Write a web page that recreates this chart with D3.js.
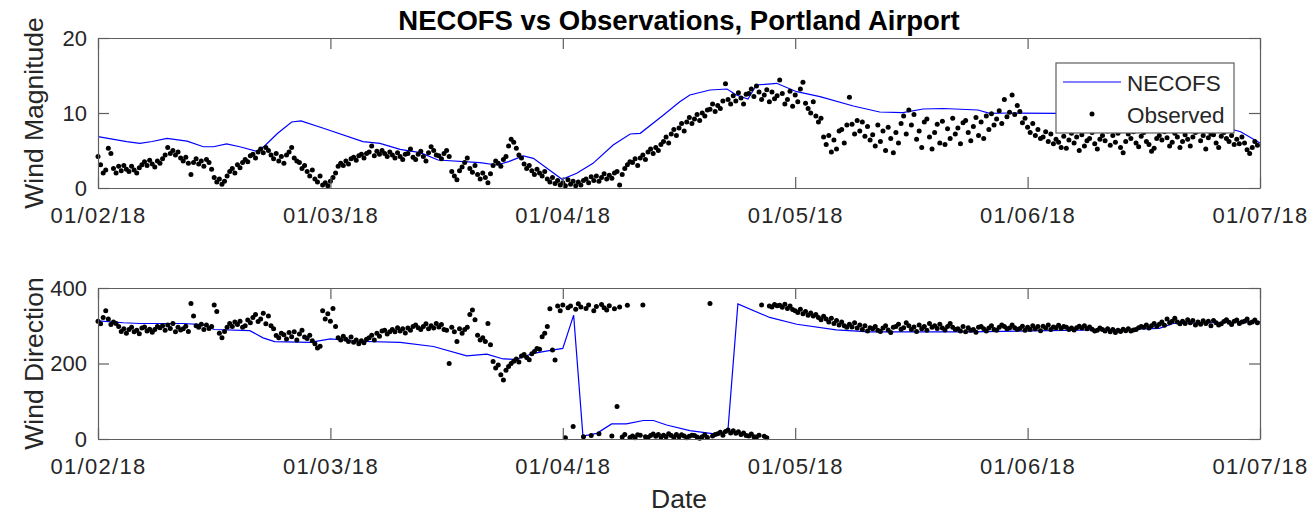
<!DOCTYPE html>
<head>
<meta charset="utf-8">
<script src="https://d3js.org/d3.v7.min.js"></script>
</head>
<style>
body { margin: 0; background: #fff; }
text { font-family: "Liberation Sans", Arial, sans-serif; fill: #262626; }
.axis path, .axis line { stroke: #5e5e5e; stroke-width: 1.2; }
.axis text { font-size: 22px; fill: #262626; }
.date-axis text { letter-spacing: 1.3px; }
</style>
<body>
<script>
// x axis: days since 1 Feb 2018, ticks every 30 days
var tickDays = [0, 30, 60, 90, 120, 150];
var tickLabels = ["01/02/18", "01/03/18", "01/04/18", "01/05/18", "01/06/18", "01/07/18"];

// NECOFS model, wind magnitude (knots)
var necofsMagDay = [0, 3.7, 5.4, 7, 8.9, 11.5, 13.6, 14.9, 16.6, 18.3, 20.5, 21.5, 23.2, 25, 26.2, 29.1,
  34.2, 36.4, 39, 41.6, 43.9, 49.3, 51.5, 53, 54.9, 56.2, 59.9, 61.8, 63.9, 66.5, 68.7, 70, 73, 75.1,
  76.4, 79, 81.2, 82.4, 83.9, 85, 87.6, 90.2, 93.2, 97.5, 100.9, 103.9, 106.5, 109.1, 113.6, 115.1,
  117.7, 124, 132, 140, 145, 147.5, 150];
var necofsMag = [6.84, 6.18, 5.96, 6.2, 6.62, 6.25, 5.5, 5.5, 5.87, 5.5, 4.9, 5.6, 7.3, 8.8, 8.95, 7.96,
  6.18, 5.96, 5.16, 4.71, 3.73, 3.38, 3.07, 3.51, 4.27, 3.96, 1.16, 1.96, 3.29, 5.73, 7.2, 7.29, 9.73, 11.51,
  12.4, 13.07, 13.2, 12.4, 11.87, 13.73, 13.96, 12.84, 12.18, 10.93, 10.13, 10.04, 10.53, 10.6, 10.4, 9.96,
  10.0, 9.96, 9.8, 9.0, 8.2, 7.5, 6.0];

// NECOFS model, wind direction
var necofsDirDay = [0, 3.3, 5.4, 11, 13.5, 15, 19.6, 21.3, 22.8, 27.4, 30, 33.4, 39, 43.3, 47.6, 50.2,
  52.3, 54, 56.2, 58.8, 60, 61.4, 62.6, 64.4, 66.3, 68.2, 70.4, 71.7, 73.4, 76.4, 79.8, 81.3, 82.6,
  86.7, 90.2, 95.3, 99.6, 112.5, 132.8, 137, 138.8, 150];
var necofsDir = [313, 308, 306, 306, 303, 290, 287, 268, 258, 256, 265, 259, 256, 245, 220, 225,
  212, 211, 227, 236, 240, 328, 8, 15, 40, 40, 49, 49, 37, 22, 13, 19, 358,
  322, 304, 289, 284, 284, 290, 293, 306, 311];

// observations, 3 per day starting 1 Feb
var obsPerDay = 3;
var obsMag = [
  4.2,3.1,2.0, 2.4,5.3,4.6, 2.6,2.0,2.9, 2.3,3.0,2.5, 2.2,2.9,2.4,
  2.0,2.7,3.1, 3.5,3.0,3.7, 3.2,2.8,3.6, 3.3,3.9,4.4, 5.4,4.6,5.0,
  4.4,4.8,4.0, 3.6,4.1,3.3, 1.8,3.4,3.9, 3.2,3.6,2.9, 3.8,3.4,2.5,
  1.4,0.8,1.2, 0.5,0.9,1.6, 2.2,2.6,2.0, 3.1,2.7,3.4, 3.8,3.5,4.3,
  4.5,4.0,4.8, 5.2,4.7,5.4, 5.0,4.4,3.9, 4.6,3.6,4.2, 3.3,4.4,4.8,
  5.4,4.0,3.6, 3.4,2.6,3.0, 2.2,1.6,2.4, 1.2,0.8,1.6, 0.4,0.7,0.3,
  0.9,1.4,2.0, 2.9,3.3,3.0, 3.6,3.2,3.9, 4.1,3.7,4.3, 4.5,4.0,4.6,
  4.8,5.6,4.3, 4.9,4.5,5.0, 4.6,4.2,4.8, 4.4,4.0,4.7, 4.2,3.8,4.5,
  4.6,5.2,4.1, 3.8,4.5,4.9, 4.2,3.6,4.7, 5.5,5.0,4.4, 4.3,3.9,4.6,
  5.0,4.2,2.2, 1.6,1.1,2.3, 2.8,3.4,4.0, 2.6,2.1,3.0, 1.8,1.2,2.0,
  1.4,0.7,1.9, 3.0,3.6,3.3, 2.9,3.8,4.2, 5.6,6.5,6.1, 5.3,4.4,4.0,
  3.2,2.6,3.0, 2.3,1.8,2.5, 2.0,1.6,2.2, 1.2,0.8,1.4, 0.6,1.0,0.4,
  0.7,0.3,1.1, 0.5,0.9,0.3, 0.8,0.4,1.0, 1.2,0.7,1.5, 1.0,1.6,0.9,
  1.4,1.9,1.2, 1.7,1.3,2.0, 2.2,0.4,1.8, 2.6,3.1,3.5, 3.4,3.9,3.0,
  4.0,4.4,3.8, 4.8,5.2,4.6, 5.4,5.0,5.8, 6.2,6.8,6.0, 7.2,7.8,7.0,
  8.0,8.6,7.6, 8.8,9.4,8.6, 9.2,9.8,9.0, 10.0,9.6,10.4, 10.5,11.2,10.2,
  11.0,10.6,11.6, 13.9,11.8,11.2, 12.3,11.6,12.7, 12.0,11.2,12.5, 12.6,13.2,12.2,
  13.6,12.8,11.8, 12.4,13.1,11.5, 12.8,11.9,12.3, 14.4,12.6,11.2, 11.8,12.9,10.9,
  12.4,11.5,13.2, 14.1,11.3,10.6, 10.0,11.5,9.6, 8.8,9.3,6.8, 5.8,7.0,4.8,
  6.4,5.2,7.6, 7.8,6.0,8.4, 12.1,8.5,7.2, 9.0,7.6,8.8, 6.9,8.2,6.4,
  7.1,5.6,8.4, 6.2,7.6,5.0, 8.1,6.6,4.7, 7.4,6.0,8.6, 9.6,7.2,10.4,
  8.4,9.8,6.5, 7.6,5.4,8.8, 9.2,6.8,5.2, 7.4,8.5,6.0, 8.9,5.8,7.9,
  6.6,9.3,7.2, 8.0,5.9,8.7, 9.0,7.4,6.3, 8.2,9.4,7.0, 8.8,6.6,9.6,
  7.8,9.9,8.4, 9.2,10.3,8.6, 11.8,9.5,10.1, 12.4,9.8,11.0, 10.2,8.7,9.3,
  8.1,7.4,8.6, 7.0,7.8,6.6, 6.8,7.5,6.2, 7.2,5.9,6.5, 6.1,5.4,6.9,
  5.3,6.4,7.3, 6.0,6.8,5.0, 7.1,5.6,6.3, 6.6,7.4,5.9, 5.2,6.5,7.0,
  6.3,7.6,5.7, 7.0,6.1,7.3, 5.4,4.7,6.2, 7.2,6.6,7.5, 6.0,5.5,6.9,
  7.4,6.2,5.8, 4.9,5.3,6.6, 7.0,6.4,7.5, 6.7,5.6,6.1, 7.3,6.8,5.4,
  6.2,7.1,6.5, 5.6,6.8,7.4, 7.6,6.3,7.0, 5.2,6.7,7.2, 7.1,6.0,5.4,
  6.9,7.4,6.6, 6.2,7.0,5.8, 6.5,5.9,6.8, 6.0,5.1,4.6, 5.4,6.2,5.7
];
var obsDir = [
  312,305,322, 340,318,303, 310,306,298, 285,292,280, 290,296,284,
  288,279,294, 297,286,291, 283,290,298, 295,300,288, 302,293,306,
  284,296,289, 292,299,285, 359,326,300, 296,304,290, 302,293,298,
  355,338,280, 268,285,296, 306,298,310, 303,312,296, 300,315,308,
  322,330,311, 318,333,305, 326,300,292, 274,268,280, 276,265,282,
  271,284,262, 278,288,270, 266,275,260, 252,241,246, 340,318,332,
  312,346,298, 268,262,272, 264,258,270, 256,262,252, 260,255,264,
  268,275,262, 280,272,286, 288,278,284, 290,284,295, 286,292,281,
  294,288,298, 302,295,290, 298,305,292, 300,294,306, 297,303,290,
  288,200,296, 284,258,292, 280,290,296, 330,342,316, 275,262,268,
  258,306,250, 205,188,196, 170,156,182, 192,200,206, 212,204,220,
  224,216,210, 226,232,240, 238,271,280, 298,345,236, 209,352,340,
  355,3,348, 352,33,344, 358,350,6, 346,355,9, 340,351,14,
  356,348,342, 353,8,345, 86,350,5, 12,354,4, 8,3,11,
  10,355,6, 4,9,13, 7,12,5, 10,6,14, 9,4,12,
  6,11,8, 3,7,10, 9,5,2, 6,11,4, 359,8,12,
  14,18,10, 20,24,16, 22,15,19, 12,16,9, 8,13,6,
  5,10,355, 7,3,352, 350,356,353, 354,349,357, 346,352,343,
  340,335,344, 332,338,328, 334,326,330, 322,316,325, 318,310,320,
  306,314,302, 310,300,296, 304,297,308, 294,302,290, 300,286,295,
  292,298,288, 285,294,300, 289,282,296, 298,304,291, 295,308,300,
  290,297,285, 302,292,298, 288,306,296, 300,293,304, 294,289,298,
  306,296,290, 292,286,298, 284,295,288, 290,283,296, 298,292,286,
  294,300,290, 288,296,302, 298,292,294, 302,295,290, 293,299,288,
  296,290,300, 292,298,287, 299,294,302, 290,297,295, 301,293,298,
  296,290,294, 289,295,299, 294,300,292, 297,291,286, 288,294,290,
  286,292,284, 290,282,288, 285,291,287, 292,286,289, 290,295,298,
  296,302,294, 300,306,298, 304,310,301, 318,308,312, 320,310,305,
  312,306,316, 308,314,302, 310,304,313, 306,312,300, 314,308,302,
  305,311,316, 309,303,312, 315,306,310, 312,318,307, 310,315,308
];

var width = 1314, height = 513;
var svg = d3.select("body").append("svg")
    .attr("width", width)
    .attr("height", height);

var x = d3.scaleLinear().domain([0, 150]).range([98, 1260]);

function drawPanel(top, bottom, yMax, yTicks, lineDay, lineVal, obsVal, yLabel) {
  var y = d3.scaleLinear().domain([0, yMax]).range([bottom, top]);
  var g = svg.append("g");

  var line = d3.line()
      .x(function(d, i) { return x(lineDay[i]); })
      .y(function(d) { return y(d); });
  g.append("path")
      .datum(lineVal)
      .attr("d", line)
      .attr("fill", "none")
      .attr("stroke", "#0000ff")
      .attr("stroke-width", 1.2);

  g.selectAll("circle.obs")
      .data(obsVal)
    .enter().append("circle")
      .attr("class", "obs")
      .attr("cx", function(d, i) { return x(i / obsPerDay); })
      .attr("cy", function(d) { return y(d); })
      .attr("r", 2.5)
      .attr("fill", "#000");

  // box + inward ticks, MATLAB style
  g.append("g").attr("class", "axis date-axis")
      .attr("transform", "translate(0," + bottom + ")")
      .call(d3.axisBottom(x).tickValues(tickDays)
        .tickFormat(function(d, i) { return tickLabels[i]; })
        .tickSizeInner(-11).tickSizeOuter(0).tickPadding(19));
  g.append("g").attr("class", "axis")
      .attr("transform", "translate(0," + top + ")")
      .call(d3.axisTop(x).tickValues(tickDays).tickFormat("")
        .tickSizeInner(-11).tickSizeOuter(0));
  g.append("g").attr("class", "axis")
      .attr("transform", "translate(98,0)")
      .call(d3.axisLeft(y).tickValues(yTicks)
        .tickSizeInner(-11).tickSizeOuter(0).tickPadding(11));
  g.append("g").attr("class", "axis")
      .attr("transform", "translate(1260,0)")
      .call(d3.axisRight(y).tickValues(yTicks).tickFormat("")
        .tickSizeInner(-11).tickSizeOuter(0));
  svg.selectAll(".axis").attr("font-size", null).attr("font-family", null);

  g.append("text")
      .attr("transform", "translate(43," + ((top + bottom) / 2) + ") rotate(-90)")
      .attr("text-anchor", "middle")
      .style("font-size", "26.5px")
      .text(yLabel);
  return y;
}

drawPanel(38, 188, 20, [0, 10, 20], necofsMagDay, necofsMag, obsMag, "Wind Magnitude");
drawPanel(288, 439, 400, [0, 200, 400], necofsDirDay, necofsDir, obsDir, "Wind Direction");

svg.append("text")
    .attr("x", 679).attr("y", 30)
    .attr("text-anchor", "middle")
    .style("font-size", "27.5px")
    .style("font-weight", "bold")
    .style("fill", "#000")
    .text("NECOFS vs Observations, Portland Airport");

svg.append("text")
    .attr("x", 679).attr("y", 508)
    .attr("text-anchor", "middle")
    .style("font-size", "26.5px")
    .text("Date");

// legend
var leg = svg.append("g");
leg.append("rect")
    .attr("x", 1056).attr("y", 63).attr("width", 178).attr("height", 70)
    .attr("fill", "#fff").attr("stroke", "#5e5e5e").attr("stroke-width", 1.2);
leg.append("line")
    .attr("x1", 1063).attr("x2", 1121).attr("y1", 82).attr("y2", 82)
    .attr("stroke", "#0000ff").attr("stroke-width", 1.2);
leg.append("circle")
    .attr("cx", 1092).attr("cy", 114).attr("r", 2.5).attr("fill", "#000");
leg.append("text").attr("x", 1127).attr("y", 91)
    .style("font-size", "22.5px").text("NECOFS");
leg.append("text").attr("x", 1127).attr("y", 123)
    .style("font-size", "22.5px").text("Observed");
</script>
</body>
